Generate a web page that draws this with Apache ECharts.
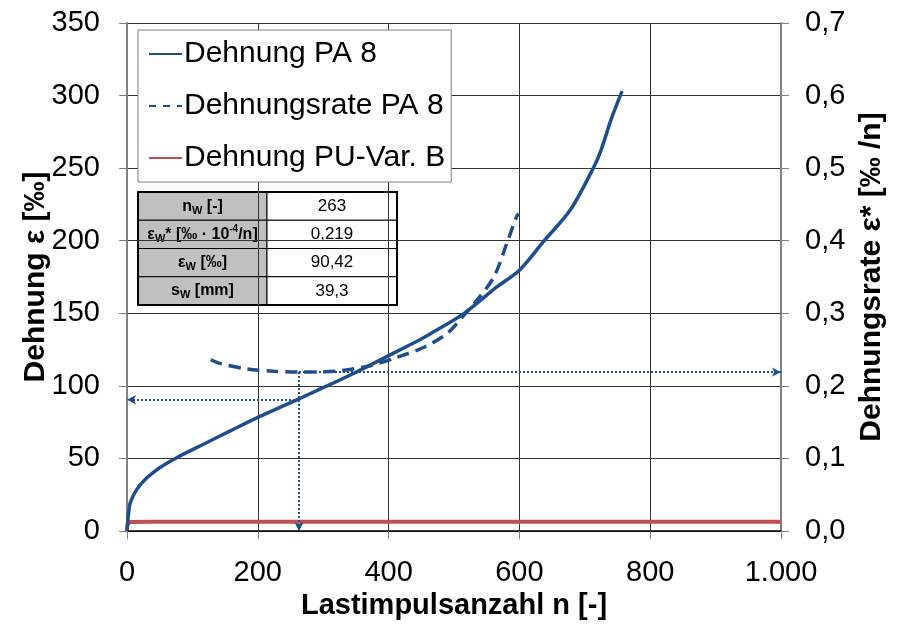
<!DOCTYPE html>
<html>
<head>
<meta charset="utf-8">
<script src="https://cdn.jsdelivr.net/npm/echarts@6/dist/echarts.min.js"></script>
<style>
  html, body { margin: 0; padding: 0; background: #fff; }
  #chart { width: 903px; height: 627px; }
</style>
</head>
<body>
<div id="chart"></div>
<script>
// Dehnung PA 8 (Lastimpulse n, Dehnung in ‰)
var nPA8   = [0, 1, 2.5, 5, 15, 30, 50, 76, 117, 158, 200, 244, 263, 295, 310, 347, 400, 447, 464, 515, 566, 600, 637, 678, 714, 725, 740, 757];
var epsPA8 = [0, 6, 12.6, 19.5, 28.7, 36.5, 43.6, 50.5, 59.8, 69.0, 78.3, 87.2, 91.0, 97.8, 100.8, 108.7, 120.8, 131.6, 135.9, 149.8, 168.3, 179.7, 199.5, 221.3, 251, 262.6, 283.3, 303];

// Dehnungsrate PA 8 (‰ / n, rechte Achse)
var nRate    = [128, 142, 183, 224, 262, 295, 326, 372, 413, 454, 489, 515, 535, 561, 581, 596, 599];
var ratePA8  = [0.236, 0.231, 0.2234, 0.2202, 0.219, 0.2192, 0.2208, 0.2278, 0.2394, 0.2532, 0.2718, 0.2972, 0.318, 0.350, 0.397, 0.434, 0.437];

// Dehnung PU-Var. B
var nPU   = [0, 1, 5, 40, 200, 400, 600, 800, 1000];
var epsPU = [0, 4.6, 6.2, 6.4, 6.4, 6.4, 6.4, 6.4, 6.4];

// Wendepunkt
var nW = 263, rateW = 0.219, epsW = 90.42;

// Tabelle
var tableLabels = [
  '{b|n}{s|W}{b| [-]}',
  '{b|ε}{s|W}{b|* [‰ · 10}{p|-4}{b|/n]}',
  '{b|ε}{s|W}{b| [‰]}',
  '{b|s}{s|W}{b| [mm]}'
];
var tableValues = ['263', '0,219', '90,42', '39,3'];

var seriesNames = ['Dehnung PA 8', 'Dehnungsrate PA 8', 'Dehnung PU-Var. B'];

var font = 'Liberation Sans, Arial, sans-serif';
var blue = '#1f4e8c', red = '#c0504d';

function pairs(xs, ys) {
  return xs.map(function (x, i) { return [x, ys[i]]; });
}

var myChart = echarts.init(document.getElementById('chart'));

// Tabelle als graphic
var tLeft = 138, tMid = 267, tRight = 397, tTop = 192, rowH = 28.25;
var tableEls = [];
tableLabels.forEach(function (lab, i) {
  var y = tTop + i * rowH;
  tableEls.push({ type: 'rect', shape: { x: tLeft, y: y, width: tMid - tLeft, height: rowH },
    style: { fill: '#c0c0c0', stroke: '#000', lineWidth: 1 } });
  tableEls.push({ type: 'rect', shape: { x: tMid, y: y, width: tRight - tMid, height: rowH },
    style: { fill: '#fff', stroke: '#000', lineWidth: 1 } });
  tableEls.push({ type: 'text', style: {
    x: (tLeft + tMid) / 2, y: y + rowH / 2, text: lab, align: 'center', verticalAlign: 'middle',
    rich: {
      b: { fontSize: 16, fontWeight: 'bold', fontFamily: font, lineHeight: 20, fill: '#000' },
      s: { fontSize: 11, fontWeight: 'bold', fontFamily: font, lineHeight: 12, verticalAlign: 'bottom', fill: '#000' },
      p: { fontSize: 10, fontWeight: 'bold', fontFamily: font, lineHeight: 12, verticalAlign: 'top', fill: '#000' }
    } } });
  tableEls.push({ type: 'text', style: {
    x: (tMid + tRight) / 2, y: y + rowH / 2, text: tableValues[i], align: 'center', verticalAlign: 'middle',
    fontSize: 17, fontFamily: font, fill: '#000' } });
});
tableEls.push({ type: 'rect', shape: { x: tLeft, y: tTop, width: tRight - tLeft, height: rowH * tableLabels.length },
  style: { fill: 'none', stroke: '#000', lineWidth: 2 } });

var arrowLine = { color: blue, width: 2, type: [2, 2] };

var option = {
  animation: false,
  textStyle: { fontFamily: font },
  grid: { left: 127, right: 122, top: 23, bottom: 96 },
  legend: {
    orient: 'vertical',
    left: 138, top: 30,
    padding: [8, 6, 8, 10],
    itemGap: 20,
    itemWidth: 33, itemHeight: 14,
    backgroundColor: '#fff',
    borderColor: '#7f7f7f', borderWidth: 1,
    itemStyle: { opacity: 0 },
    textStyle: { fontSize: 30, color: '#000', fontFamily: font, lineHeight: 32, padding: [0, 0, 0, -3] },
    data: [
      { name: seriesNames[0] },
      { name: seriesNames[1], lineStyle: { type: [7, 7] } },
      { name: seriesNames[2] }
    ]
  },
  xAxis: {
    type: 'value', min: 0, max: 1000, interval: 200,
    name: 'Lastimpulsanzahl n [-]', nameLocation: 'middle', nameGap: 57,
    nameTextStyle: { fontSize: 29, fontWeight: 'bold', color: '#000' },
    axisLine: { lineStyle: { color: '#000', width: 1.5 } },
    axisTick: { show: true, length: 8, lineStyle: { color: '#808080' } },
    axisLabel: { fontSize: 29, color: '#000', margin: 27,
      formatter: function (v) { return v >= 1000 ? (v / 1000) + '.000' : String(v); } },
    splitLine: { show: true, lineStyle: { color: '#333', width: 1 } }
  },
  yAxis: [
    {
      type: 'value', min: 0, max: 350, interval: 50,
      name: 'Dehnung ε [‰]', nameLocation: 'middle', nameGap: 76, nameRotate: 90,
      nameMoveOverlap: false,
      nameTextStyle: { fontSize: 30, fontWeight: 'bold', color: '#000' },
      axisLine: { show: true, lineStyle: { color: '#808080', width: 2 } },
      axisTick: { show: true, length: 8, lineStyle: { color: '#808080' } },
      axisLabel: { fontSize: 29, color: '#000', margin: 27 },
      splitLine: { show: true, lineStyle: { color: '#333', width: 1 } }
    },
    {
      type: 'value', min: 0, max: 0.7, interval: 0.1, position: 'right',
      name: 'Dehnungsrate ε* [‰ /n]', nameLocation: 'middle', nameGap: 76, nameRotate: 90,
      nameTextStyle: { fontSize: 30, fontWeight: 'bold', color: '#000' },
      axisLine: { show: true, lineStyle: { color: '#808080', width: 2 } },
      axisTick: { show: true, length: 8, lineStyle: { color: '#808080' } },
      axisLabel: { fontSize: 29, color: '#000', margin: 24,
        formatter: function (v) { return v.toFixed(1).replace('.', ','); } },
      splitLine: { show: false }
    }
  ],
  graphic: tableEls,
  series: [
    {
      name: seriesNames[2], type: 'line', yAxisIndex: 0, symbol: 'none', smooth: 0.2,
      lineStyle: { color: red, width: 4 }, itemStyle: { color: red },
      data: pairs(nPU, epsPU), z: 2
    },
    {
      name: seriesNames[0], type: 'line', yAxisIndex: 0, symbol: 'none', smooth: 0.3,
      lineStyle: { color: blue, width: 3.5 }, itemStyle: { color: blue },
      data: pairs(nPA8, epsPA8), z: 3,
      markLine: {
        silent: true, symbol: ['none', 'arrow'], symbolSize: [7, 9],
        label: { show: false }, lineStyle: arrowLine,
        data: [
          [{ coord: [nW, epsW] }, { coord: [0, epsW] }],
          [{ coord: [nW, rateW * 500] }, { coord: [nW, 0] }]
        ]
      }
    },
    {
      name: seriesNames[1], type: 'line', yAxisIndex: 1, symbol: 'none', smooth: 0.3,
      lineStyle: { color: blue, width: 3.5, type: [12, 7] }, itemStyle: { color: blue },
      data: pairs(nRate, ratePA8), z: 3,
      markLine: {
        silent: true, symbol: ['none', 'arrow'], symbolSize: [7, 9],
        label: { show: false }, lineStyle: arrowLine,
        data: [
          [{ coord: [nW, rateW] }, { coord: [1000, rateW] }]
        ]
      }
    }
  ]
};

myChart.setOption(option);
</script>
</body>
</html>
